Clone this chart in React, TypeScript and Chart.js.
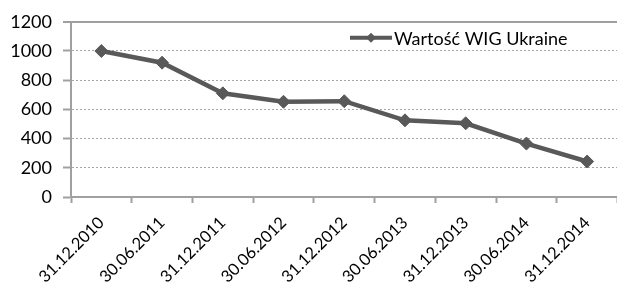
import React, { useEffect, useRef } from 'react';
import { Chart, registerables } from 'chart.js';

Chart.register(...registerables);

const categories = ['31.12.2010', '30.06.2011', '31.12.2011', '30.06.2012', '31.12.2012', '30.06.2013', '31.12.2013', '30.06.2014', '31.12.2014'];
const values = [1000, 920, 710, 652, 656, 525, 505, 366, 243];
const seriesLabel = 'Wartość WIG Ukraine';
const yMin = 0;
const yMax = 1200;
const yStep = 200;

const FONT_FAMILY = 'Lato';
const FONT_SIZE = 18;
const X_FONT_SIZE = 16.5;
const LINE_COLOR = '#595959';
const AXIS_COLOR = '#a0a0a0';
const GRID_COLOR = '#a6a6a6';

const insideLegend = {
  id: 'insideLegend',
  afterDraw(chart: any) {
    const { ctx, chartArea } = chart;
    const ds = chart.data.datasets[0];
    const x0 = chartArea.left + 279;
    const y0 = chartArea.top + 16;
    const len = 42;
    ctx.save();
    ctx.strokeStyle = LINE_COLOR;
    ctx.lineWidth = 4;
    ctx.beginPath();
    ctx.moveTo(x0, y0);
    ctx.lineTo(x0 + len, y0);
    ctx.stroke();
    const cx = x0 + len / 2;
    const r = 5;
    ctx.fillStyle = LINE_COLOR;
    ctx.beginPath();
    ctx.moveTo(cx, y0 - r);
    ctx.lineTo(cx + r, y0);
    ctx.lineTo(cx, y0 + r);
    ctx.lineTo(cx - r, y0);
    ctx.closePath();
    ctx.fill();
    ctx.fillStyle = '#000';
    ctx.font = `${FONT_SIZE}px ${FONT_FAMILY}`;
    ctx.textBaseline = 'middle';
    ctx.textAlign = 'left';
    ctx.fillText(ds.label, x0 + len + 2, y0 + 1);
    ctx.restore();
  },
};

export default function App() {
  const ref = useRef<HTMLCanvasElement | null>(null);

  useEffect(() => {
    if (!ref.current) return;
    const chart = new Chart(ref.current, {
      type: 'line',
      data: {
        labels: categories,
        datasets: [
          {
            label: seriesLabel,
            data: values,
            borderColor: LINE_COLOR,
            backgroundColor: LINE_COLOR,
            borderWidth: 4.5,
            pointStyle: 'rectRot',
            pointRadius: 6.5,
            pointBorderWidth: 1,
            pointBackgroundColor: LINE_COLOR,
            pointBorderColor: LINE_COLOR,
            tension: 0,
          },
        ],
      },
      options: {
        responsive: false,
        animation: false,
        layout: { padding: { top: 19, right: 0, left: 0, bottom: 0 } },
        plugins: {
          legend: { display: false },
          tooltip: { enabled: false },
        },
        scales: {
          x: {
            type: 'category',
            offset: true,
            afterFit: (s: any) => {
              s.height = 91;
            },
            grid: {
              offset: true,
              drawOnChartArea: false,
              drawTicks: true,
              tickLength: 6,
              tickColor: AXIS_COLOR,
              tickWidth: 2,
            },
            border: { display: true, color: AXIS_COLOR, width: 2 },
            ticks: {
              autoSkip: false,
              maxRotation: 45,
              minRotation: 45,
              padding: 10,
              color: '#000',
              font: { family: FONT_FAMILY, size: X_FONT_SIZE },
            },
          },
          y: {
            min: yMin,
            max: yMax,
            afterFit: (s: any) => {
              s.width = 71;
            },
            grid: {
              color: (c: any) => (c.tick && c.tick.value === yMax ? AXIS_COLOR : GRID_COLOR),
              lineWidth: (c: any) => (c.tick && c.tick.value === yMax ? 2 : 1),
              drawTicks: true,
              tickLength: 8,
              tickColor: AXIS_COLOR,
              tickWidth: 2,
            },
            border: {
              display: true,
              color: AXIS_COLOR,
              width: 2,
              dash: (c: any) => (c.tick && c.tick.value === yMax ? [] : [2, 2]),
            },
            ticks: {
              stepSize: yStep,
              padding: 11,
              color: '#000',
              font: { family: FONT_FAMILY, size: FONT_SIZE },
              callback: (v: any) => String(v),
            },
          },
        },
      },
      plugins: [insideLegend],
    });
    return () => chart.destroy();
  }, []);

  return (
    <div style={{ position: 'fixed', left: 0, top: 0, width: 617, height: 288, overflow: 'hidden', background: '#fff' }}>
      <canvas ref={ref} width={625} height={288} style={{ display: 'block' }} />
    </div>
  );
}
